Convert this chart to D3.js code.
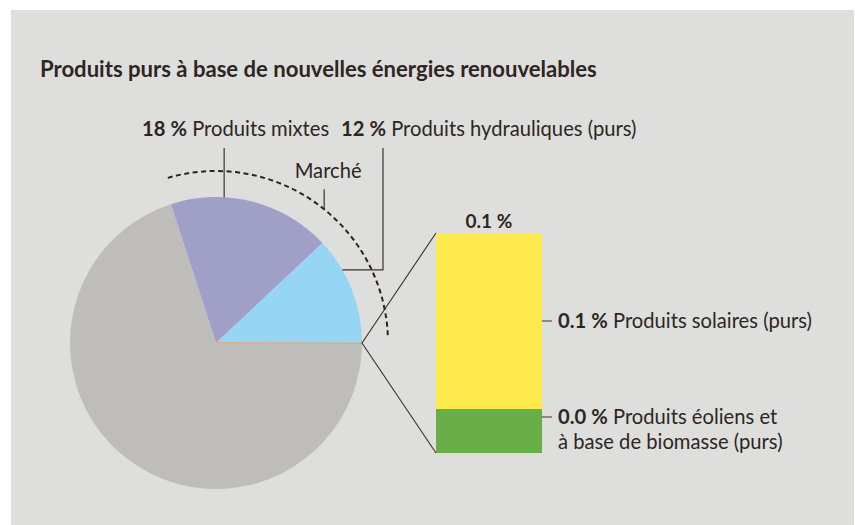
<!DOCTYPE html>
<html>
<head>
<meta charset="utf-8">
<script src="https://cdn.jsdelivr.net/npm/d3@7"></script>
<style>
  html, body { margin: 0; padding: 0; background: #ffffff; }
  svg { display: block; }
  text { font-family: Lato, "Open Sans", "Noto Sans", sans-serif; fill: #2e2622; }
</style>
</head>
<body>
<svg id="chart" width="855" height="525"></svg>
<script>
// ---- data ----
const title = "Produits purs à base de nouvelles énergies renouvelables";
const pieCategories = ["Produits mixtes", "Produits hydrauliques (purs)", "Nouvelles énergies renouvelables", "Autres produits"];
const pieValues = [18, 12, 0.1, 69.9];
const pieColors = ["#9f9fc7", "#96d5f3", "#f4a35e", "#bebdbb"];
const barCategories = ["Produits éoliens et|à base de biomasse (purs)", "Produits solaires (purs)"];
const barValues = [0.02, 0.08];
const barColors = ["#6aae47", "#ffea4e"];
const marketLabel = "Marché";

// ---- layout ----
const svg = d3.select("#chart");
svg.append("rect").attr("x", 11).attr("y", 10).attr("width", 843).attr("height", 515).attr("fill", "#dededd");

svg.append("text").attr("x", 40).attr("y", 77)
  .style("font-weight", "700").style("font-size", "22.1px").text(title);

const cx = 216, cy = 343, R = 146;
const ink = "#3a322e";
const fmt = v => v.toFixed(1);
const LS = "20.2px";

// pie: market slices end at 3 o'clock, going counter-clockwise
const marketShare = (pieValues[0] + pieValues[1]) / 100;
const start = Math.PI / 2 - marketShare * 2 * Math.PI;
const pie = d3.pie().sort(null).value(d => d).startAngle(start).endAngle(start + 2 * Math.PI);
const arcs = pie(pieValues);
const arc = d3.arc().innerRadius(0).outerRadius(R);
const g = svg.append("g").attr("transform", `translate(${cx},${cy})`);
g.selectAll("path.slice").data(arcs).join("path")
  .attr("class", "slice")
  .attr("d", arc)
  .attr("fill", (d, i) => pieColors[i])
  .attr("stroke", (d, i) => i === 2 ? pieColors[2] : "none")
  .attr("stroke-width", 1);

// polar helper (d3 angle convention)
const pt = (a, r) => [cx + r * Math.sin(a), cy - r * Math.cos(a)];

// dashed market arc
const Rm = 172;
const a0 = arcs[0].startAngle + 0.03, a1 = arcs[1].endAngle - 0.035;
const p = d3.path();
p.arc(cx, cy, Rm, a0 - Math.PI / 2, a1 - Math.PI / 2, false);
svg.append("path").attr("d", p.toString()).attr("fill", "none")
  .attr("stroke", "#2a2320").attr("stroke-width", 2).attr("stroke-dasharray", "5,3.5");

// Marché label + tick
const mAng = 0.68;
const mp = pt(mAng, Rm);
svg.append("line").attr("x1", mp[0]).attr("x2", mp[0]).attr("y1", mp[1]).attr("y2", mp[1] - 20)
  .attr("stroke", ink).attr("stroke-width", 1.2);
svg.append("text").attr("x", mp[0] + 4).attr("y", 178).attr("text-anchor", "middle")
  .style("font-size", LS).text(marketLabel);

// labels on top
const labelY = 136, lineTop = 148;
function topLabel(x, value, name) {
  const t = svg.append("text").attr("x", x).attr("y", labelY).style("font-size", LS);
  t.append("tspan").style("font-weight", "700").text(value + "\u202f%");
  t.append("tspan").text(" " + name);
}
// mixtes
const mixPt = pt(arcs[0].startAngle + 0.37, R);
svg.append("line").attr("x1", mixPt[0]).attr("x2", mixPt[0]).attr("y1", lineTop).attr("y2", mixPt[1])
  .attr("stroke", ink).attr("stroke-width", 1.2);
topLabel(142, pieValues[0], pieCategories[0]);
// hydraulique
const hyPt = pt(arcs[1].startAngle + 0.23, R);
const hyX = 383;
svg.append("polyline").attr("points", [[hyPt[0], hyPt[1]], [hyX, hyPt[1]], [hyX, lineTop]].map(d => d.join(",")).join(" "))
  .attr("fill", "none").attr("stroke", ink).attr("stroke-width", 1.2);
topLabel(341, pieValues[1], pieCategories[1]);

// stacked bar (zoom of the tiny slice)
const bx0 = 436, bx1 = 542;
const total = d3.sum(barValues);
const y = d3.scaleLinear().domain([0, total]).range([453, 233]);
const stack = d3.stack().keys(d3.range(barValues.length))([barValues.reduce((o, v, i) => (o[i] = v, o), {})]);
svg.selectAll("rect.bar").data(stack).join("rect").attr("class", "bar")
  .attr("x", bx0).attr("width", bx1 - bx0)
  .attr("y", d => y(d[0][1])).attr("height", d => y(d[0][0]) - y(d[0][1]))
  .attr("fill", (d, i) => barColors[i]);

// connectors from slice to bar
const sp = pt(arcs[2].startAngle, R);
svg.append("polyline")
  .attr("points", [[bx0, y(total)], sp, [bx0, y(0)]].map(d => d.join(",")).join(" "))
  .attr("fill", "none").attr("stroke", ink).attr("stroke-width", 1.1);

svg.append("text").attr("x", (bx0 + bx1) / 2).attr("y", y(total) - 5).attr("text-anchor", "middle")
  .style("font-weight", "700").style("font-size", "19px").text(fmt(total) + "\u202f%");

// bar labels
const tickY = [y(barValues[0]) + 8, (y(total) + y(barValues[0])) / 2];
barCategories.forEach((name, i) => {
  const ty = tickY[i];
  svg.append("line").attr("x1", bx1).attr("x2", bx1 + 10).attr("y1", ty).attr("y2", ty)
    .attr("stroke", "#6f6a67").attr("stroke-width", 1.5);
  const lines = name.split("|");
  const t = svg.append("text").attr("x", bx1 + 16).attr("y", ty + 7).style("font-size", LS);
  t.append("tspan").style("font-weight", "700").text(fmt(barValues[i]) + "\u202f%");
  t.append("tspan").text(" " + lines[0]);
  lines.slice(1).forEach(l => t.append("tspan").attr("x", bx1 + 16).attr("dy", 25).text(l));
});
</script>
</body>
</html>
